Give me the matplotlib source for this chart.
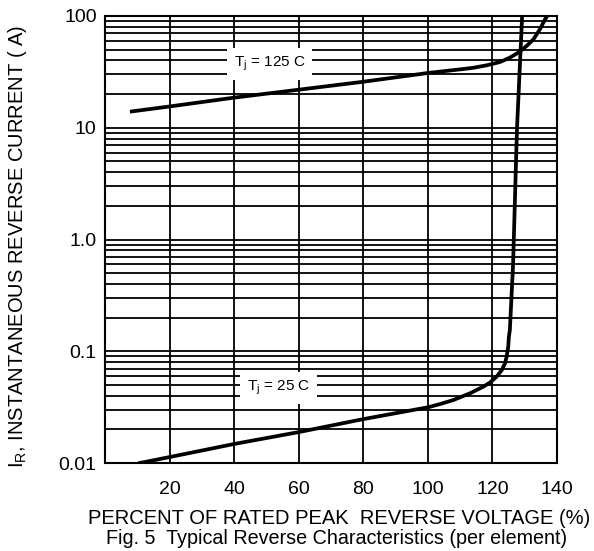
import matplotlib
matplotlib.use("Agg")
import matplotlib.pyplot as plt
from matplotlib.ticker import LogLocator, NullFormatter, FixedLocator

plt.rcParams['font.family'] = ['Liberation Sans', 'DejaVu Sans']
plt.rcParams['mathtext.fontset'] = 'custom'
plt.rcParams['mathtext.rm'] = 'Liberation Sans'
plt.rcParams['mathtext.it'] = 'Liberation Sans'

# Datos
x_125 = [8.3, 20, 40, 60, 80, 100, 110, 114.1, 118.2, 122.3, 125.4, 128.0, 130.6,
         132.7, 134.7, 136.3, 137.0]
y_125 = [14, 15.5, 18.6, 21.9, 25.8, 30.9, 33.3, 34.4, 36.2, 38.7, 42.4, 47, 54,
         61.8, 76, 93.4, 100]

x_25 = [10.8, 20, 40, 60, 80, 100, 103.8, 107.9, 113.1, 117.2, 119.2, 121.3, 122.9,
        123.9, 124.4, 124.9, 125.1, 125.4, 126.4, 127.0, 127.6, 129.2]
y_25 = [0.01, 0.0113, 0.0148, 0.0189, 0.0247, 0.0315, 0.0337, 0.0366, 0.0421, 0.0482,
        0.0524, 0.0592, 0.0679, 0.078, 0.0894, 0.11, 0.135, 0.155, 0.6, 2.44, 9.7, 100]

x_ticks = [20, 40, 60, 80, 100, 120, 140]
y_ticks = [0.01, 0.1, 1, 10, 100]
y_tick_labels = ["0.01", "0.1", "1.0", "10", "100"]

# Figura
fig = plt.figure(figsize=(5.94, 5.51), dpi=100)
ax = fig.add_axes([105/594, 1-463/551, (557-105)/594, (463-16)/551])

ax.set_yscale('log')
ax.set_xlim(0, 140)
ax.set_ylim(0.01, 100)

ax.xaxis.set_major_locator(FixedLocator(x_ticks))
ax.set_yticks(y_ticks)
ax.set_yticklabels(y_tick_labels)
ax.yaxis.set_minor_locator(LogLocator(base=10, subs=range(2, 10)))
ax.yaxis.set_minor_formatter(NullFormatter())
ax.tick_params(which='both', length=0, labelsize=14)
ax.tick_params(axis='x', pad=13)
ax.tick_params(axis='y', pad=6)

# Rejilla
ax.grid(True, which='major', axis='both', color='black', linewidth=1.3, zorder=1)
ax.grid(True, which='minor', axis='y', color='black', linewidth=1.3, zorder=1)
ax.set_axisbelow(True)
for s in ax.spines.values():
    s.set_linewidth(1.5)

# Curvas
ax.plot(x_125, y_125, color='black', linewidth=2.7, zorder=4, solid_joinstyle='round')
ax.plot(x_25, y_25, color='black', linewidth=2.7, zorder=4, solid_joinstyle='round')

# Etiquetas de las curvas
caja = dict(facecolor='white', edgecolor='none', pad=5)
ax.text(51, 37.4, r"T$_\mathregular{j}$ = 125 C", fontsize=11, ha='center', va='center',
        bbox=caja, zorder=3)
ax.text(53.8, 0.0466, r"T$_\mathregular{j}$ = 25 C", fontsize=11, ha='center', va='center',
        bbox=caja, zorder=3)

# Textos de ejes
fig.text(18/594, 1-246/551, r"I$_\mathregular{R}$, INSTANTANEOUS REVERSE CURRENT ( A)",
         rotation=90, ha='center', va='center', fontsize=14.5)
fig.text(339/594, 1-518/551, "PERCENT OF RATED PEAK  REVERSE VOLTAGE (%)",
         ha='center', va='center', fontsize=14.5)
fig.text(337/594, 1-538/551, "Fig. 5  Typical Reverse Characteristics (per element)",
         ha='center', va='center', fontsize=14.2)

fig.savefig("out.png", dpi=100)
